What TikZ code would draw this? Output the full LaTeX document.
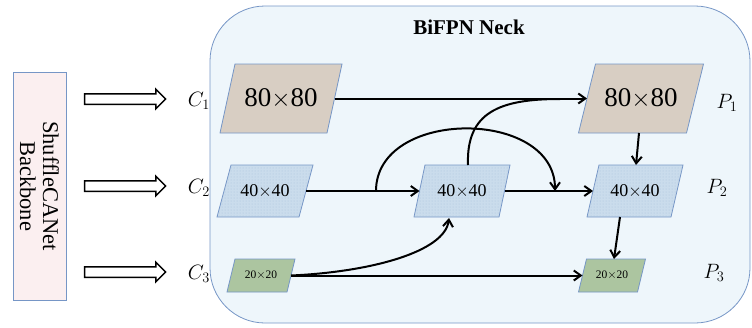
\documentclass[tikz,border=0pt]{standalone}
\usepackage{fontspec}
\setmainfont{Liberation Serif}
\usetikzlibrary{arrows.meta,shapes.arrows,patterns}
\definecolor{neckfill}{RGB}{238,246,251}
\definecolor{edgeblue}{RGB}{118,150,198}
\definecolor{bbfill}{RGB}{251,239,240}
\definecolor{beige}{RGB}{216,206,195}
\definecolor{lblue}{RGB}{202,220,236}
\definecolor{dotblue}{RGB}{170,195,220}
\definecolor{lgreen}{RGB}{172,197,160}
\tikzset{
  inv/.style={inner sep=0pt, outer sep=0pt},
  pg/.style={draw=edgeblue, line width=0.8pt},
  conn/.style={-{Straight Barb[length=7pt,width=10pt,line width=2pt]}, line width=2pt, black},
  plain/.style={line width=2pt, black},
  bigarrow/.style={single arrow, draw=black, fill=white, line width=1.5pt,
    minimum height=81pt, inner xsep=0pt, inner ysep=4.5pt,
    single arrow head extend=4.5pt,
    single arrow tip angle=90, anchor=center},
  lab/.style={font=\fontsize{22}{22}\selectfont},
}
% name, cx, cy, w, h, slant, fill, text style, text
\newcommand\pgram[9]{%
  \node[inv, minimum width=#4pt, minimum height=#5pt] (#1) at (#2,#3) {};
  \filldraw[pg, fill=#7] ({#2-#4/2+#6/2},{#3-#5/2}) -- ({#2+#4/2+#6/2},{#3-#5/2})
     -- ({#2+#4/2-#6/2},{#3+#5/2}) -- ({#2-#4/2-#6/2},{#3+#5/2}) -- cycle;
  \node[inv, font=#8] at (#1.center) {#9};
}
\newcommand\pgramdots[6]{%
  \fill[pattern=dots, pattern color=dotblue] ({#2-#4/2+#6/2},{#3-#5/2}) -- ({#2+#4/2+#6/2},{#3-#5/2})
     -- ({#2+#4/2-#6/2},{#3+#5/2}) -- ({#2-#4/2-#6/2},{#3+#5/2}) -- cycle;
}
\begin{document}
\begin{tikzpicture}[x=1pt,y=-1pt]
\useasboundingbox (0,0) rectangle (752,327);
% backbone
\node[draw=edgeblue, fill=bbfill, line width=0.8pt, minimum width=53pt, minimum height=228pt, inner sep=0pt] (bb) at (39.5,186) {};
\node[rotate=-90, align=center, font=\fontsize{22.5}{23}\selectfont] (bbt) at (bb.center) {ShuffleCANet\\Backbone};
% neck
\node[draw=edgeblue, fill=neckfill, line width=0.8pt, rounded corners=55pt, minimum width=540pt, minimum height=317pt, inner sep=0pt] (neck) at (480,164.5) {};
\node[font=\bfseries\fontsize{21}{21}\selectfont] (title) at (469,27) {BiFPN Neck};
% big arrows
\node[bigarrow] (a1) at (122.5,99) {};
\node[bigarrow] (a2) at (122.5,186) {};
\node[bigarrow] (a3) at (122.5,272) {};
% C labels
\node[lab] (c1l) at (199,101) {$C_1$};
\node[lab] (c2l) at (199,188) {$C_2$};
\node[lab] (c3l) at (199,274) {$C_3$};
% P labels
\node[lab] (p1l) at (727,103) {$P_1$};
\node[lab] (p2l) at (717,188) {$P_2$};
\node[lab] (p3l) at (714,273) {$P_3$};
% parallelograms
\pgram{c1}{281}{98.5}{107}{69}{15}{beige}{\fontsize{27}{27}\selectfont}{80$\times$80}
\pgram{p1}{641}{98.5}{108}{69}{17}{beige}{\fontsize{27}{27}\selectfont}{80$\times$80}
\pgram{c2}{265}{191}{82}{52}{14}{lblue}{\fontsize{18}{18}\selectfont}{}
\pgram{m}{462}{191}{85}{52}{11}{lblue}{\fontsize{18}{18}\selectfont}{}
\pgram{p2}{635}{191}{84}{52}{12}{lblue}{\fontsize{18}{18}\selectfont}{}
\pgramdots{c2}{265}{191}{82}{52}{14}
\pgramdots{m}{462}{191}{85}{52}{11}
\pgramdots{p2}{635}{191}{84}{52}{12}
\node[inv, font=\fontsize{18}{18}\selectfont] (c2t) at (c2.center) {40$\times$40};
\node[inv, font=\fontsize{18}{18}\selectfont] (mt) at (m.center) {40$\times$40};
\node[inv, font=\fontsize{18}{18}\selectfont] (p2t) at (p2.center) {40$\times$40};
\pgram{c3}{261}{275.5}{60}{33}{8}{lgreen}{\fontsize{11.5}{12}\selectfont}{20$\times$20}
\pgram{p3}{612}{275.5}{59}{33}{8}{lgreen}{\fontsize{11.5}{12}\selectfont}{20$\times$20}
% connectors
\coordinate (split) at (376,191);
\coordinate (drop) at (555,191);
\coordinate (mtop) at (468,165);
\coordinate (mbot) at (449,218);
\coordinate (join) at (560,99);
\draw[conn] (c1.east) -- (p1.west);
\draw[plain] (mtop) .. controls (466,112) and (500,99) .. (join);
\draw[conn] (c2.east) -- (m.west);
\draw[conn] (split) .. controls (376,108) and (555,108) .. (drop);
\draw[conn] (m.east) -- (p2.west);
\draw[conn] ([xshift=-2pt]p1.south) -- ([xshift=1pt]p2.north);
\draw[conn] ([xshift=-15pt]p2.south) -- ([xshift=2pt]p3.north);
\draw[conn] (c3.east) .. controls (370,272) and (445,252) .. (mbot);
\draw[conn] (c3.east) -- (p3.west);
\end{tikzpicture}
\end{document}
